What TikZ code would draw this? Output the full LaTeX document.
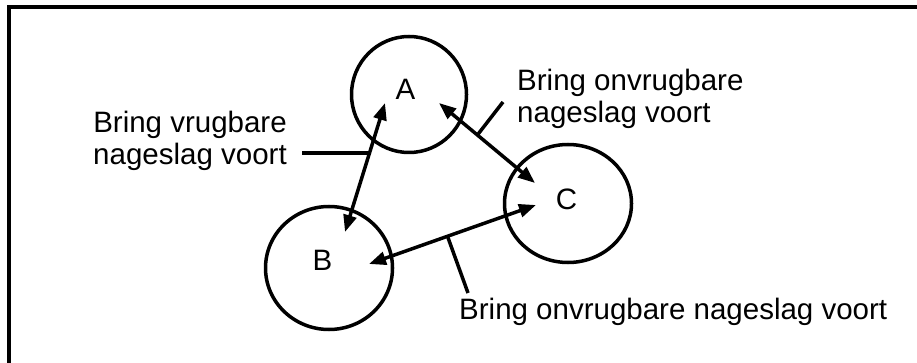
\documentclass[tikz,border=0pt]{standalone}
\usepackage{fontspec}
\setmainfont{Liberation Sans}
\usetikzlibrary{arrows.meta,shapes.geometric}

\begin{document}
\begin{tikzpicture}[x=1pt,y=-1pt,font=\fontsize{29.5}{32}\selectfont,
    organism/.style ={ellipse, draw, line width=3.5pt, inner sep=0pt},
    cross/.style ={line width=3.5pt, {Triangle[length=17pt,width=13pt]}-{Triangle[length=17pt,width=13pt]}},
    pointer/.style ={line width=3.5pt},
    caption/.style ={inner sep=0pt}]
  \useasboundingbox (0,0) rectangle (917,363);
  \draw[line width=4pt] (9,363) -- (9,7.5) -- (917,7.5);
  % the three organisms
  \node[organism, minimum width=115pt, minimum height=116pt] (A) at (409,94.5) {};
  \node[organism, minimum width=127pt, minimum height=123pt] (B) at (329,268) {};
  \node[organism, minimum width=127pt, minimum height=118pt] (C) at (568,203.5) {};
  \node (a) at (405.5,89.5) {A};
  \node (b) at (322.5,260) {B};
  \node (c) at (566.5,199.5) {C};
  % arrow ends
  \coordinate (AtB) at (385,103);
  \coordinate (BtA) at (345,232);
  \coordinate (AtC) at (439,103);
  \coordinate (CtA) at (535,183);
  \coordinate (BtC) at (369,264);
  \coordinate (CtB) at (536,205);
  \draw[cross] (AtB) -- (BtA) coordinate[pos=0.39] (mAB);
  \draw[cross] (AtC) -- (CtA) coordinate[pos=0.4] (mAC);
  \draw[cross] (BtC) -- (CtB) coordinate[pos=0.47] (mBC);
  % captions
  \node[caption, align=center] (fertile) at (190,141) {Bring vrugbare\\nageslag voort};
  \node[caption, align=left, anchor=west] (sterileAC) at (517,99) {Bring onvrugbare\\nageslag voort};
  \node[caption, anchor=base west] (sterileBC) at (459,319) {Bring onvrugbare nageslag voort};
  \coordinate (fertileEnd) at (302,153);
  \coordinate (sterileACEnd) at (503,102);
  \coordinate (sterileBCEnd) at (468,293);
  \draw[pointer] (fertileEnd) -- (fertileEnd -| mAB);
  \draw[pointer] (sterileACEnd) -- (mAC);
  \draw[pointer] (sterileBCEnd) -- (mBC);
\end{tikzpicture}
\end{document}
